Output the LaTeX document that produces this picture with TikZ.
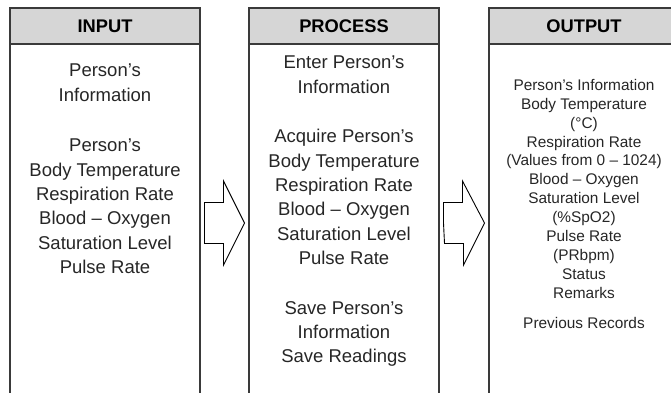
\documentclass[tikz,border=0pt]{standalone}
\usepackage{fontspec}
\setmainfont{Liberation Sans}
\usetikzlibrary{positioning, calc}
\definecolor{boxline}{RGB}{58,58,58}
\definecolor{headfill}{RGB}{214,214,214}
\tikzset{
  head/.style={rectangle,draw=boxline,fill=headfill,line width=1.6pt,
    minimum width=190pt,minimum height=36pt,inner sep=0pt,outer sep=0pt,
    font=\fontsize{18.3}{22}\selectfont\bfseries},
  frame/.style={rectangle,draw=boxline,line width=1.6pt,
    minimum width=190pt,minimum height=358pt,inner sep=0pt,outer sep=0pt},
  txt/.style={align=center,inner sep=0pt,text=black!85,
    font=\fontsize{18.5}{24.4}\selectfont},
  smalltxt/.style={align=center,inner sep=0pt,text=black!85,
    font=\fontsize{15.4}{18.9}\selectfont},
  bigarrow/.style={draw=black,line width=0.9pt,fill=white,line join=miter}
}

\begin{document}
\begin{tikzpicture}[x=1pt,y=-1pt,node distance=49pt]
\useasboundingbox (0,0) rectangle (671,392);
\clip (0,0) rectangle (671,392);

\node[head] (inhead) at (105,26) {INPUT};
\node[head,right=of inhead] (prochead) {PROCESS};
\node[head,right=50pt of prochead] (outhead) {OUTPUT};

\node[frame,below=0pt of inhead] (inbox) {};
\node[frame,below=0pt of prochead] (procbox) {};
\node[frame,below=0pt of outhead] (outbox) {};

\node[txt,below=20pt of inhead] (intext) {Person’s\\Information\\[26pt]
  Person’s\\Body Temperature\\Respiration Rate\\Blood – Oxygen\\
  Saturation Level\\Pulse Rate};
\node[txt,below=12pt of prochead] (proctext) {Enter Person’s\\Information\\[25pt]
  Acquire Person’s\\Body Temperature\\Respiration Rate\\Blood – Oxygen\\
  Saturation Level\\Pulse Rate\\[25pt]
  Save Person’s\\Information\\Save Readings};
\node[smalltxt,below=35pt of outhead] (outtext) {Person’s Information\\
  Body Temperature\\(°C)\\Respiration Rate\\(Values from 0 – 1024)\\
  Blood – Oxygen\\Saturation Level\\(\%SpO2)\\Pulse Rate\\(PRbpm)\\
  Status\\Remarks\\[11pt]Previous Records};

\foreach \a/\b in {inbox/procbox, procbox/outbox}
  \draw[bigarrow] ($(\a.east)+(4.5,0)$) -- ++(0,-20.5) -- ++(19,0) -- ++(0,-21.5)
    -- ($(\b.west)+(-4.5,0)$) -- ++(-21,42) -- ++(0,-21.5) -- ++(-19,0) -- cycle;
\end{tikzpicture}
\end{document}
